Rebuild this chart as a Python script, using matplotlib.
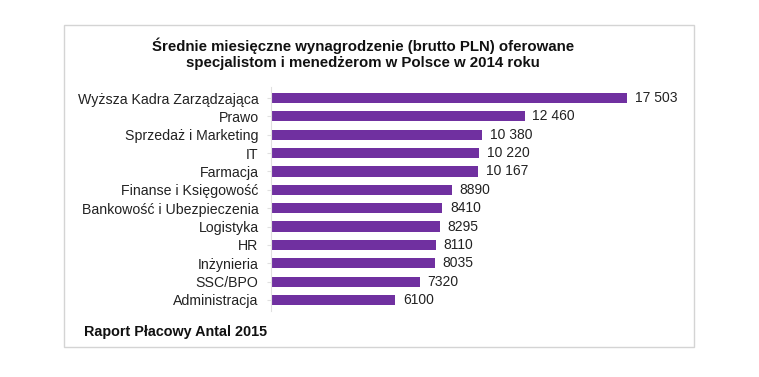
import matplotlib
matplotlib.use("Agg")
import matplotlib.pyplot as plt
from matplotlib.patches import Rectangle

categories = ["Wyższa Kadra Zarządzająca", "Prawo", "Sprzedaż i Marketing", "IT",
              "Farmacja", "Finanse i Księgowość", "Bankowość i Ubezpieczenia",
              "Logistyka", "HR", "Inżynieria", "SSC/BPO", "Administracja"]
salaries = [17503, 12460, 10380, 10220, 10167, 8890, 8410, 8295, 8110, 8035, 7320, 6100]

title = ("Średnie miesięczne wynagrodzenie (brutto PLN) oferowane\n"
         "specjalistom i menedżerom w Polsce w 2014 roku")
source = "Raport Płacowy Antal 2015"

W, H = 759, 377
plt.rcParams["font.family"] = ["Liberation Sans", "DejaVu Sans"]

fig = plt.figure(figsize=(W / 100, H / 100), dpi=100)
fig.patch.set_facecolor("white")

# frame around the whole chart
fig.patches.append(Rectangle((64 / W, 1 - 347 / H), 630 / W, 322 / H,
                             transform=fig.transFigure, fill=False,
                             edgecolor="#D4D4D4", linewidth=1.0))

ax = fig.add_axes([271 / W, 1 - 311 / H, 407 / W, 224 / H])
ypos = list(range(len(categories)))
ax.barh(ypos, salaries, height=0.55, color="#7030A0")
ax.set_xlim(0, 20000)
ax.set_ylim(len(categories) - 0.4, -0.6)

ax.set_yticks(ypos)
ax.set_yticklabels(categories, fontsize=10.2, color="#222222")
ax.tick_params(axis="y", length=3, color="#E0E0E0", pad=6)
ax.set_xticks([])
for s in ["top", "right", "bottom"]:
    ax.spines[s].set_visible(False)
ax.spines["left"].set_color("#E0E0E0")

for y, v in zip(ypos, salaries):
    lab = "{:,}".format(v).replace(",", " ") if v >= 10000 else str(v)
    ax.text(v + 380, y, lab, va="center", ha="left", fontsize=10, color="#222222")

fig.text(363 / W, 1 - 54 / H, title, ha="center", va="center",
         fontsize=10.8, fontweight="bold", linespacing=1.2, color="#111111")
fig.text(84 / W, 1 - 332 / H, source, ha="left", va="center",
         fontsize=10.4, fontweight="bold", color="#111111")

fig.savefig("out.png", dpi=100)
